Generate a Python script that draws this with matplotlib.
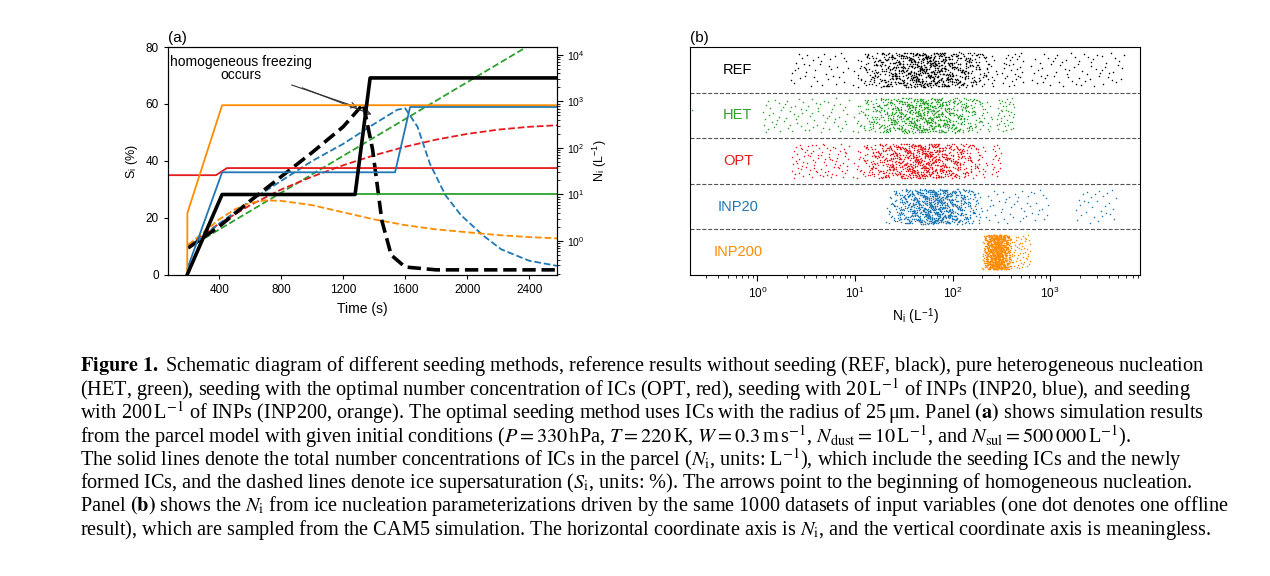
import numpy as np
import matplotlib
matplotlib.use("Agg")
import matplotlib.pyplot as plt

plt.rcParams['font.family'] = ['Liberation Sans', 'DejaVu Sans']
plt.rcParams['mathtext.fontset'] = 'stix'

# ---------------- Panel (a) data ----------------
# Solid lines: N_i (L^-1), right log axis
ref_t = [194, 419, 1277, 1374, 2600]
ref_n = [0.19, 10, 10, 3200, 3200]
het_t = [419, 2600]
het_n = [10, 10]
opt_t = [70, 380, 450, 2600]
opt_n = [26, 26, 37, 37]
inp20_t = [194, 419, 1535, 1632, 2600]
inp20_n = [0.25, 30, 30, 760, 760]
inp200_t = [194, 195, 419, 2600]
inp200_n = [0.19, 4.0, 830, 830]

# Dashed lines: S_i (%), left axis
ref_st = [200, 400, 600, 800, 1000, 1200, 1330, 1390, 1450, 1510, 1600, 1800, 2600]
ref_s = [9.5, 17, 26, 34.5, 43, 52, 60, 44, 19, 7, 2.8, 1.8, 1.8]
het_st = [200, 2600]
het_s = [9.5, 87]
opt_st = [200, 400, 600, 800, 1000, 1200, 1400, 1600, 1800, 2000, 2200, 2400, 2600]
opt_s = [10.5, 18, 24.5, 30, 34.5, 38.5, 42, 45, 47.5, 49.5, 51, 52, 52.6]
inp20_st = [200, 400, 600, 800, 1000, 1200, 1400, 1550, 1600, 1680, 1760, 1860, 1960, 2100, 2220, 2400, 2600]
inp20_s = [9.5, 18, 26, 33, 40, 46, 53, 58, 58.5, 52, 39, 28, 21, 14, 9, 5, 3]
inp200_st = [200, 300, 400, 500, 600, 700, 800, 1000, 1200, 1400, 1600, 1800, 2000, 2200, 2400, 2600]
inp200_s = [10.5, 15, 19.5, 23, 25.3, 26.2, 26, 24.5, 22, 19.5, 17.5, 16, 15, 14, 13.3, 12.8]

# ---------------- Panel (b) data ----------------
rows = ["REF", "HET", "OPT", "INP20", "INP200"]
row_colors = ["black", "#2ca02c", "#e41a1c", "#1f78b4", "#ff8c00"]
# clusters per row: (log10 lo, log10 hi, count)
row_clusters = [
    [(0.34, 0.95, 40), (0.95, 2.5, 850), (2.5, 2.74, 30), (2.8, 3.77, 70)],
    [(0.05, 0.95, 80), (0.95, 2.45, 820), (2.45, 2.64, 40), (-0.68, -0.66, 1)],
    [(0.35, 0.95, 90), (0.95, 2.4, 860), (2.4, 2.5, 20)],
    [(1.3, 2.33, 880), (2.33, 3.0, 50), (3.25, 3.7, 30)],
    [(2.3, 2.62, 900), (2.62, 2.8, 50)],
]
xticks_b = [1, 10, 100, 1000]
xticklabels_b = [r"$\mathregular{10^0}$", r"$\mathregular{10^1}$", r"$\mathregular{10^2}$", r"$\mathregular{10^3}$"]


def vdc(n, base):
    out = np.zeros(n)
    for i in range(n):
        f, r, k = 1.0, 0.0, i + 1
        while k > 0:
            f /= base
            r += f * (k % base)
            k //= base
        out[i] = r
    return out


fig = plt.figure(figsize=(12.7, 5.76), dpi=100)

# ---- (a)
ax = fig.add_axes([0.1323, 0.5226, 0.3063, 0.3958])
ax2 = ax.twinx()
ax.set_xlim(70, 2580)
ax.set_ylim(0, 80)
ax2.set_yscale('log')
ax2.set_ylim(10 ** -0.73, 10 ** 4.17)
lw = 1.3
ax.plot(het_st, het_s, '--', color='#2ca02c', lw=lw)
ax.plot(opt_st, opt_s, '--', color='#e41a1c', lw=lw)
ax.plot(inp20_st, inp20_s, '--', color='#1f78b4', lw=lw)
ax.plot(inp200_st, inp200_s, '--', color='#ff8c00', lw=lw)
ax.plot(ref_st, ref_s, '--', color='black', lw=2.6)
ax2.plot(het_t, het_n, '-', color='#2ca02c', lw=lw)
ax2.plot(opt_t, opt_n, '-', color='#e41a1c', lw=lw)
ax2.plot(inp20_t, inp20_n, '-', color='#1f78b4', lw=lw)
ax2.plot(inp200_t, inp200_n, '-', color='#ff8c00', lw=lw)
ax2.plot(ref_t, ref_n, '-', color='black', lw=2.6)
ax.set_xticks([400, 800, 1200, 1600, 2000, 2400])
ax.set_yticks([0, 20, 40, 60, 80])
ax.tick_params(labelsize=8.5, length=3)
ax2.tick_params(labelsize=7.5, length=4)
ax2.tick_params(which='minor', length=2)
ax2.set_yticks([1, 10, 100, 1000, 10000])
ax2.set_yticklabels([r"$\mathregular{10^%d}$" % k for k in range(5)])
ax.set_xlabel("Time (s)", fontsize=10)
ax.set_ylabel(r"S$_{\mathregular{i}}$ (%)", fontsize=9)
ax2.set_ylabel(r"N$_{\mathregular{i}}$ (L$^{\mathregular{-1}}$)", fontsize=9, rotation=90, labelpad=4)
ax.text(0.0, 1.02, "(a)", transform=ax.transAxes, fontsize=11)
ax.text(540, 72.5, "homogeneous freezing\noccurs", fontsize=10, ha='center',
        va='center', linespacing=0.9)
ax.annotate("", xy=(1310, 58.5), xytext=(850, 67),
            arrowprops=dict(arrowstyle='->', lw=0.8, color='#333333'))
ax.annotate("", xy=(1400, 56), xytext=(920, 66),
            arrowprops=dict(arrowstyle='->', lw=0.8, color='#333333'))

# ---- (b)
bx = fig.add_axes([0.5433, 0.5226, 0.3543, 0.3958])
bx.set_xscale('log')
bx.set_xlim(10 ** -0.69, 10 ** 3.92)
bx.set_ylim(5, 0)
for r, (name, col, cl) in enumerate(zip(rows, row_colors, row_clusters)):
    xs, ys = [], []
    for lo, hi, n in cl:
        u = vdc(n, 2)
        v = vdc(n, 3)
        if n > 100:
            u = (u + vdc(n, 5)) / 2  # denser in the middle
        xs.append(10 ** (lo + (hi - lo) * u))
        ys.append(r + 0.12 + 0.76 * v)
    bx.scatter(np.concatenate(xs), np.concatenate(ys), s=1.2, color=col, lw=0)
    bx.text(10 ** -0.2, r + 0.5, name, color=col, fontsize=10.5, ha='center', va='center')
for k in range(1, 5):
    bx.axhline(k, color='#555555', ls='--', lw=0.8)
bx.set_yticks([])
bx.set_xticks(xticks_b)
bx.set_xticklabels(xticklabels_b)
bx.tick_params(labelsize=8.5, length=4)
bx.tick_params(which='minor', length=2)
bx.set_xlabel(r"N$_{\mathregular{i}}$ (L$^{\mathregular{-1}}$)", fontsize=10)
bx.text(0.0, 1.02, "(b)", transform=bx.transAxes, fontsize=11)

# ---- caption
lines = [
    r"$\mathbf{Figure\ 1.}$ Schematic diagram of different seeding methods, reference results without seeding (REF, black), pure heterogeneous nucleation",
    r"(HET, green), seeding with the optimal number concentration of ICs (OPT, red), seeding with 20$\,$L$^{-1}$ of INPs (INP20, blue), and seeding",
    r"with 200$\,$L$^{-1}$ of INPs (INP200, orange). The optimal seeding method uses ICs with the radius of 25$\,$μm. Panel $\mathbf{(a)}$ shows simulation results",
    r"from the parcel model with given initial conditions ($P = 330\,$hPa, $T = 220\,$K, $W = 0.3\,$m$\,$s$^{-1}$, $N_{\rm dust} = 10\,$L$^{-1}$, and $N_{\rm sul} = 500\,000\,$L$^{-1}$).",
    r"The solid lines denote the total number concentrations of ICs in the parcel ($N_{\rm i}$, units: L$^{-1}$), which include the seeding ICs and the newly",
    r"formed ICs, and the dashed lines denote ice supersaturation ($S_{\rm i}$, units: %). The arrows point to the beginning of homogeneous nucleation.",
    r"Panel $\mathbf{(b)}$ shows the $N_{\rm i}$ from ice nucleation parameterizations driven by the same 1000 datasets of input variables (one dot denotes one offline",
    r"result), which are sampled from the CAM5 simulation. The horizontal coordinate axis is $N_{\rm i}$, and the vertical coordinate axis is meaningless.",
]
y0 = 366
for i, s in enumerate(lines):
    fig.text(80 / 1270, 1 - (y0 + i * 23.4) / 576, s, fontsize=14.6,
             family=['Liberation Serif', 'DejaVu Serif'], va='center', ha='left')

fig.savefig("out.png", dpi=100)
